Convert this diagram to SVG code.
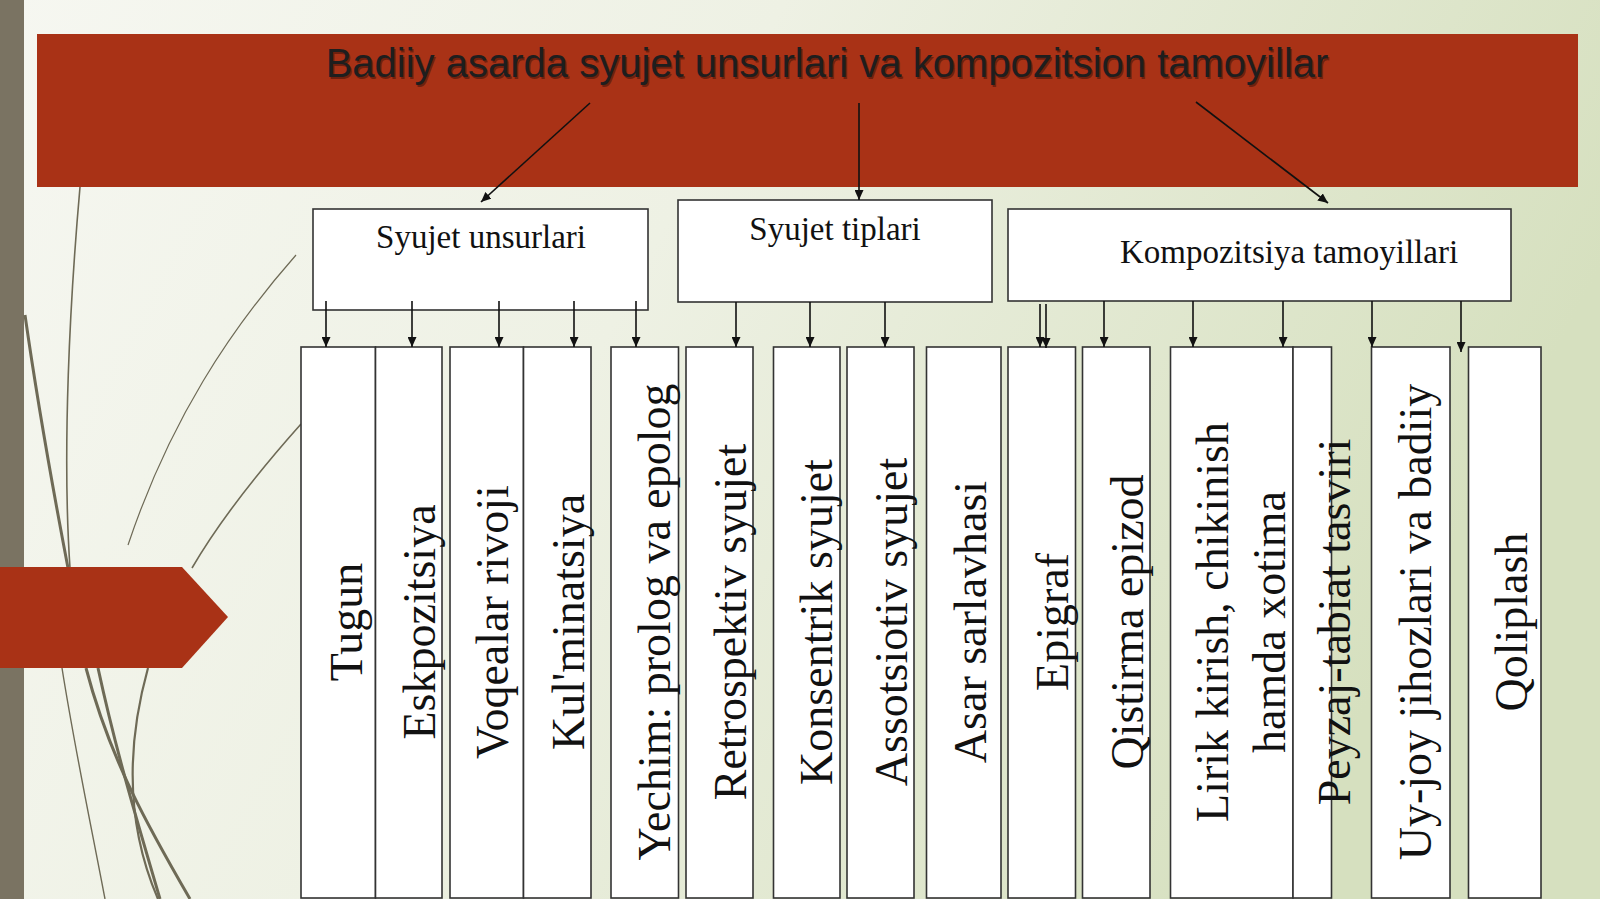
<svg xmlns="http://www.w3.org/2000/svg" width="1600" height="899" viewBox="0 0 1600 899">
<defs>
<linearGradient id="bg" x1="0" y1="0" x2="1" y2="0.3">
<stop offset="0" stop-color="#F6F7F1"/>
<stop offset="0.45" stop-color="#EEF1E4"/>
<stop offset="1" stop-color="#D6E0BF"/>
</linearGradient>
<marker id="ah" markerUnits="userSpaceOnUse" markerWidth="10" markerHeight="9" refX="10" refY="4.5" orient="auto">
<path d="M0,0 L10,4.5 L0,9 z" fill="#111"/>
</marker>
<style>
.box{fill:#fff;stroke:#333;stroke-width:1.6}
.lbl{font-family:"Liberation Serif","Times New Roman",serif;font-size:33px;fill:#111;text-anchor:middle}
.vt{font-family:"Liberation Serif","Times New Roman",serif;font-size:46px;fill:#111;text-anchor:middle}
.con{stroke:#111;stroke-width:1.6;fill:none;marker-end:url(#ah)}
.deco{fill:none;stroke:#6E6A56}
</style>
</defs>
<rect x="0" y="0" width="1600" height="899" fill="url(#bg)"/>
<rect x="0" y="0" width="24" height="899" fill="#7A7362"/>
<g id="decoration">
<path class="deco" stroke-width="1.6" d="M80,187 C70,300 62,450 70,568"/>
<path class="deco" stroke-width="3" d="M25,315 C40,420 55,500 68,568"/>
<path class="deco" stroke-width="1.6" d="M301,424 C260,470 220,520 192,568"/>
<path class="deco" stroke-width="1.2" stroke="#DADCD0" d="M296,255 C230,330 170,420 128,545"/>
<path class="deco" stroke-width="3" d="M86,668 C110,760 150,830 190,899"/>
<path class="deco" stroke-width="3" d="M98,668 C118,760 140,830 160,899"/>
<path class="deco" stroke-width="2.2" d="M148,668 C128,740 124,820 158,899"/>
<path class="deco" stroke-width="1.4" stroke="#CDD0C2" d="M62,668 C75,750 90,820 105,899"/>
<polygon points="0,567 182,567 228,617 182,668 0,668" fill="#A93216"/>
</g>
<g id="title">
<rect x="37" y="34" width="1541" height="153" fill="#A93216"/>
<text x="828.5" y="78.5" font-family="'Liberation Sans',Arial,sans-serif" font-size="40" fill="#000" fill-opacity="0.35" text-anchor="middle">Badiiy asarda syujet unsurlari va kompozitsion tamoyillar</text>
<text x="827" y="77" font-family="'Liberation Sans',Arial,sans-serif" font-size="40" fill="#1E1E1E" text-anchor="middle">Badiiy asarda syujet unsurlari va kompozitsion tamoyillar</text>
</g>
<g id="node-syujet-unsurlari">
<rect class="box" x="313" y="209" width="335" height="101"/>
<text class="lbl" x="481" y="248">Syujet unsurlari</text>
</g>
<g id="node-syujet-tiplari">
<rect class="box" x="678" y="200" width="314" height="102"/>
<text class="lbl" x="835" y="240">Syujet tiplari</text>
</g>
<g id="node-kompozitsiya">
<rect class="box" x="1008" y="209" width="503" height="92"/>
<text class="lbl" x="1289" y="263">Kompozitsiya tamoyillari</text>
</g>
<g id="node-tugun"><rect class="box" x="301" y="347" width="74.5" height="551"/><text class="vt" transform="translate(362,622) rotate(-90)">Tugun</text></g>
<g id="node-eskpozitsiya"><rect class="box" x="375.5" y="347" width="66.5" height="551"/><text class="vt" transform="translate(435,622) rotate(-90)">Eskpozitsiya</text></g>
<g id="node-voqealar"><rect class="box" x="450" y="347" width="73.5" height="551"/><text class="vt" transform="translate(508,622) rotate(-90)">Voqealar rivoji</text></g>
<g id="node-kulminatsiya"><rect class="box" x="523.5" y="347" width="67.5" height="551"/><text class="vt" transform="translate(584,622) rotate(-90)">Kul'minatsiya</text></g>
<g id="node-yechim"><rect class="box" x="611" y="347" width="67.5" height="551"/><text class="vt" transform="translate(670,622) rotate(-90)">Yechim: prolog va epolog</text></g>
<g id="node-retrospektiv"><rect class="box" x="686" y="347" width="67" height="551"/><text class="vt" transform="translate(746,622) rotate(-90)">Retrospektiv syujet</text></g>
<g id="node-konsentrik"><rect class="box" x="773.5" y="347" width="66.5" height="551"/><text class="vt" transform="translate(832,622) rotate(-90)">Konsentrik syujet</text></g>
<g id="node-assotsiotiv"><rect class="box" x="847" y="347" width="67" height="551"/><text class="vt" transform="translate(907,622) rotate(-90)">Assotsiotiv syujet</text></g>
<g id="node-asar-sarlavhasi"><rect class="box" x="926.5" y="347" width="74.5" height="551"/><text class="vt" transform="translate(986,622) rotate(-90)">Asar sarlavhasi</text></g>
<g id="node-epigraf"><rect class="box" x="1008" y="347" width="67.5" height="551"/><text class="vt" transform="translate(1068,622) rotate(-90)">Epigraf</text></g>
<g id="node-qistirma"><rect class="box" x="1082.5" y="347" width="67.5" height="551"/><text class="vt" transform="translate(1143,622) rotate(-90)">Qistirma epizod</text></g>
<g id="node-lirik"><rect class="box" x="1170.5" y="347" width="122.5" height="551"/><text class="vt" transform="translate(1228,622) rotate(-90)">Lirik kirish, chikinish</text><text class="vt" transform="translate(1285,622) rotate(-90)">hamda xotima</text></g>
<g id="node-peyzaj"><rect class="box" x="1293" y="347" width="38.5" height="551"/><text class="vt" transform="translate(1350,622) rotate(-90)">Peyzaj-tabiat tasviri</text></g>
<g id="node-uy-joy"><rect class="box" x="1371.5" y="347" width="78.5" height="551"/><text class="vt" transform="translate(1431,622) rotate(-90)">Uy-joy jihozlari va badiiy</text></g>
<g id="node-qoliplash"><rect class="box" x="1468.5" y="347" width="72.5" height="551"/><text class="vt" transform="translate(1527,622) rotate(-90)">Qoliplash</text></g>
<g id="connectors">
<line class="con" x1="590" y1="103" x2="481" y2="202"/>
<line class="con" x1="859" y1="103" x2="859" y2="200"/>
<line class="con" x1="1196" y1="102" x2="1328" y2="203"/>
<line class="con" x1="326" y1="301" x2="326" y2="347"/>
<line class="con" x1="412" y1="301" x2="412" y2="347"/>
<line class="con" x1="499" y1="301" x2="499" y2="347"/>
<line class="con" x1="574" y1="301" x2="574" y2="347"/>
<line class="con" x1="636" y1="301" x2="636" y2="347"/>
<line class="con" x1="736" y1="302" x2="736" y2="347"/>
<line class="con" x1="810" y1="302" x2="810" y2="347"/>
<line class="con" x1="885" y1="302" x2="885" y2="347"/>
<line class="con" x1="1040" y1="304" x2="1040" y2="347"/>
<line class="con" x1="1046" y1="304" x2="1046" y2="348"/>
<line class="con" x1="1104" y1="301" x2="1104" y2="347"/>
<line class="con" x1="1193" y1="301" x2="1193" y2="347"/>
<line class="con" x1="1283" y1="301" x2="1283" y2="347"/>
<line class="con" x1="1372" y1="301" x2="1372" y2="347"/>
<line class="con" x1="1461" y1="301" x2="1461" y2="352"/>
</g>
</svg>
